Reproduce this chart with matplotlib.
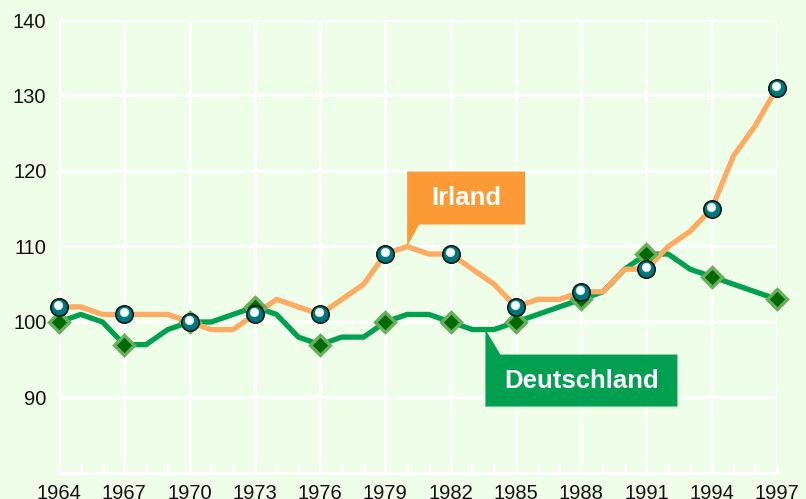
import matplotlib
matplotlib.use("Agg")
import matplotlib.pyplot as plt
import matplotlib.transforms as mtransforms
from matplotlib.patches import Polygon

plt.rcParams['font.family'] = ['Liberation Sans', 'DejaVu Sans']

years = list(range(1964, 1998))
irland = [102, 102, 101, 101, 101, 101, 100, 99, 99, 101, 103, 102, 101, 103, 105,
          109, 110, 109, 109, 107, 105, 102, 103, 103, 104, 104, 107, 107, 110, 112,
          115, 122, 126, 131]
deutschland = [100, 101, 100, 97, 97, 99, 100, 100, 101, 102, 101, 98, 97, 98, 98,
               100, 101, 101, 100, 99, 99, 100, 101, 102, 103, 104, 107, 109, 109, 107,
               106, 105, 104, 103]
marker_years = years[::3]
irland_m = irland[::3]
deutschland_m = deutschland[::3]
xtick_labels = [str(y) for y in marker_years]
yticks = [90, 100, 110, 120, 130, 140]

label_ir = "Irland"
label_de = "Deutschland"
anchor_ir = (1980, 110)
anchor_de = (1983.6, 99)

BG = '#EFFEE8'
ORANGE_LINE = '#FDAA62'
ORANGE_BOX = '#FC9A35'
GREEN = '#00A050'
TEAL = '#00767A'

W, H = 806, 499
fig = plt.figure(figsize=(W / 100, H / 100), dpi=100, facecolor=BG)
ax = fig.add_axes([59 / W, 1 - 473 / H, 718 / W, 453 / H], facecolor=BG)
ax.set_xlim(1964, 1997)
ax.set_ylim(80, 140)

ax.set_xticks(marker_years)
ax.set_xticklabels(xtick_labels)
ax.set_xticks(years, minor=True)
ax.set_yticks(yticks)
ax.set_yticklabels([str(v) for v in yticks])
ax.grid(True, which='major', color='white', linewidth=2.2, zorder=0)
ax.set_axisbelow(True)
for s in ['left', 'top', 'right']:
    ax.spines[s].set_visible(False)
ax.spines['bottom'].set_color('white')
ax.spines['bottom'].set_linewidth(2.4)
ax.tick_params(axis='x', which='both', direction='in', length=7.5, width=2.0,
               color='white', pad=8, labelsize=14.5, labelcolor='#111111')
ax.tick_params(axis='y', which='both', length=0, pad=9, labelsize=14.5, labelcolor='#111111')

ax.plot(years, deutschland, color=GREEN, lw=3.8, zorder=3, clip_on=False)
ax.plot(years, irland, color=ORANGE_LINE, lw=3.8, zorder=4, clip_on=False)

ax.plot(marker_years, deutschland_m, ls='none', marker='D', markersize=10,
        markerfacecolor='#006A00', markeredgecolor='#68AE5C', markeredgewidth=2.4,
        zorder=5, clip_on=False)
ax.plot(marker_years, irland_m, ls='none', marker='o', markersize=12.5,
        markerfacecolor=TEAL, markeredgecolor='#0A1A1A', markeredgewidth=1.2,
        zorder=6, clip_on=False)
hl = mtransforms.offset_copy(ax.transData, fig=fig, x=-0.5, y=1.5, units='points')
ax.plot(marker_years, irland_m, ls='none', marker='o', markersize=6,
        markerfacecolor='white', markeredgecolor='#BFE6E6', markeredgewidth=0.7,
        transform=hl, zorder=7, clip_on=False)

fig.canvas.draw()


def callout(anchor, dx_box, dy_near, dy_far, dx_diag, up, color, text):
    tx, ty = ax.transData.transform(anchor)
    s = 1 if up else -1
    pts = [(tx, ty),
           (tx + dx_diag, ty + s * dy_near),
           (tx + dx_box, ty + s * dy_near),
           (tx + dx_box, ty + s * dy_far),
           (tx, ty + s * dy_far)]
    poly = Polygon(pts, closed=True, transform=None, facecolor=color,
                   edgecolor='none', zorder=8)
    fig.add_artist(poly)
    cx = tx + dx_box / 2
    cy = ty + s * (dy_near + dy_far) / 2
    fig.text(cx / W, cy / H, text, ha='center', va='center', color='white',
             fontsize=18.5, fontweight='bold', zorder=9)


callout(anchor_ir, 118, 22, 75, 12, True, ORANGE_BOX, label_ir)
callout(anchor_de, 192, 25, 77, 15, False, GREEN, label_de)

fig.savefig('out.png', dpi=100, facecolor=BG)
